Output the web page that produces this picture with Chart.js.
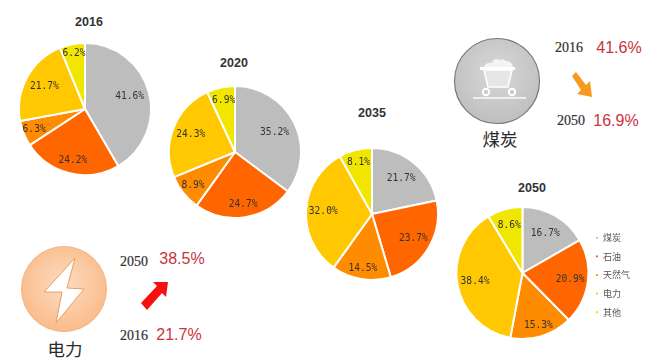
<!DOCTYPE html>
<html>
<head>
<meta charset="utf-8">
<script src="https://cdn.jsdelivr.net/npm/chart.js@4"></script>
<style>
html,body{margin:0;padding:0;background:#fff;width:651px;height:358px;overflow:hidden;}
canvas{position:absolute;}
svg{position:absolute;left:0;top:0;}
.t{position:absolute;white-space:nowrap;transform:translate(-50%,-50%);line-height:1;}
.titulo{font:bold 12.5px "Liberation Sans";color:#333;}
.anio{font:14px "Liberation Serif";color:#333;-webkit-text-stroke:.2px #333;}
.pct{font:16px "Liberation Sans";color:#c9343c;}
.nombre{font:17.5px "Noto Sans CJK SC";color:#2b2b2b;}
</style>
</head>
<body>
<svg width="651" height="358">
  <defs>
    <radialGradient id="gris" cx="50%" cy="40%" r="65%"><stop offset="0" stop-color="#d8d8d8"/><stop offset="1" stop-color="#bdbdbd"/></radialGradient>
    <radialGradient id="naranja" cx="50%" cy="45%" r="60%"><stop offset="0" stop-color="#fddcc0"/><stop offset="1" stop-color="#f9b986"/></radialGradient>
  </defs>
  <!-- carbon -->
  <circle cx="497" cy="81" r="42.5" fill="url(#gris)" stroke="#777" stroke-width="1.2"/>
  <path d="M484 67 q2 -5 8 -4 q2 -6 8 -3 q3 -2 6 1 q6 0 7 6 z" fill="#f4f4f4"/>
  <rect x="480" y="67" width="35" height="3" fill="#fff"/>
  <path d="M484 70 h28 l-4 17 h-20 z" fill="#e6e6e6" stroke="#fff" stroke-width="1.5"/>
  <circle cx="486" cy="92" r="3.2" fill="#ccc" stroke="#fff" stroke-width="2"/>
  <circle cx="512" cy="92" r="3.2" fill="#ccc" stroke="#fff" stroke-width="2"/>
  <rect x="473" y="97" width="53" height="1.8" fill="#f2f2f2"/>
  <path d="M572 76 L576 72 L586 85 L590 81 L592 97 L577 94 L581 90 Z" fill="#f79a1e"/>
  <!-- electricidad -->
  <circle cx="64" cy="289" r="42.5" fill="url(#naranja)" stroke="#f2b483" stroke-width="1"/>
  <path d="M75 258 L44 292 L62 292 L56 323 L84 289 L67 288 Z" fill="#fff" stroke="#e8a060" stroke-width="1"/>
  <path d="M141 303 L157 286 L153 282 L168 282 L166 297 L162 293 L147 310 Z" fill="#f50f0f"/>
</svg>
<canvas id="g2016" width="134" height="134" style="left:18px;top:42px"></canvas>
<canvas id="g2020" width="134" height="134" style="left:168px;top:85px"></canvas>
<canvas id="g2035" width="134" height="134" style="left:305px;top:147px"></canvas>
<canvas id="g2050" width="185" height="134" style="left:455px;top:206px"></canvas>
<script>
var fuentes=["煤炭","石油","天然气","电力","其他"];
var colores=["#bdbdbd","#ff6600","#ff8c00","#ffc800","#f0e600"];

var anios=["2016","2020","2035","2050"];
var datos2016=[41.6,24.2,6.3,21.7,6.2];
var datos2020=[35.2,24.7,8.9,24.3,6.9];
var datos2035=[21.7,23.7,14.5,32.0,8.1];
var datos2050=[16.7,20.9,15.3,38.4,8.6];

var carbonInicio="41.6%";
var carbonFin="16.9%";
var electricidadInicio="21.7%";
var electricidadFin="38.5%";

// how far out each value label sits, as a share of the radius
var radios2016=[.70,.80,.83,.70,.86];
var radios2020=[.67,.80,.81,.72,.80];
var radios2035=[.70,.73,.83,.74,.81];
var radios2050=[.69,.73,.83,.73,.75];

// writes the value of each slice on top of it
var etiquetas={
  id:"etiquetas",
  afterDatasetsDraw:function(chart){
    var ctx=chart.ctx;
    var arcos=chart.getDatasetMeta(0).data;
    var radios=chart.config.options.radiosEtiqueta;
    ctx.save();
    ctx.font='9.6px "DejaVu Sans Mono"';
    ctx.fillStyle="#333";
    ctx.textAlign="center";
    ctx.textBaseline="middle";
    for(var i=0;i<arcos.length;i++){
      var a=arcos[i];
      var medio=(a.startAngle+a.endAngle)/2;
      var d=a.outerRadius*radios[i];
      ctx.fillText(chart.data.datasets[0].data[i].toFixed(1)+"%",a.x+Math.cos(medio)*d,a.y+Math.sin(medio)*d);
    }
    ctx.restore();
  }
};

function pastel(id,valores,radios,conLeyenda){
  var ctx=document.getElementById(id).getContext("2d");
  return new Chart(ctx,{
    type:"pie",
    data:{
      labels:fuentes,
      datasets:[{data:valores,backgroundColor:colores,borderColor:"#fff",borderWidth:2,radius:66,clip:false}]
    },
    options:{
      responsive:false,
      animation:false,
      devicePixelRatio:1,
      radiosEtiqueta:radios,
      layout:{padding:{left:conLeyenda?4:0}},
      plugins:{
        tooltip:{enabled:false},
        legend:{
          display:conLeyenda,
          position:"right",
          // blank title: pushes the rows a little below the pie's centre
          title:{display:true,text:" ",padding:0,font:{size:4,lineHeight:1}},
          labels:{
            usePointStyle:true,
            pointStyle:"circle",
            boxWidth:3,
            boxHeight:3,
            padding:9.6,
            color:"#555",
            font:{family:"Noto Sans CJK SC",size:9}
          }
        }
      }
    },
    plugins:[etiquetas]
  });
}

pastel("g2016",datos2016,radios2016,false);
pastel("g2020",datos2020,radios2020,false);
pastel("g2035",datos2035,radios2035,false);
pastel("g2050",datos2050,radios2050,true);

function texto(clase,cad,x,y){
  var d=document.createElement("div");
  d.className="t "+clase;
  d.textContent=cad;
  d.style.left=x+"px";
  d.style.top=y+"px";
  document.body.appendChild(d);
}
texto("titulo",anios[0],89,22);
texto("titulo",anios[1],234,63);
texto("titulo",anios[2],372,113);
texto("titulo",anios[3],532,188);

texto("anio",anios[0],569,48);
texto("pct",carbonInicio,619,48);
texto("anio",anios[3],571,121);
texto("pct",carbonFin,616,121);
texto("nombre","煤炭",500,138);

texto("anio",anios[3],134,262);
texto("pct",electricidadFin,182,259);
texto("anio",anios[0],134,336);
texto("pct",electricidadInicio,179,335);
texto("nombre","电力",65,348);
</script>
</body>
</html>
